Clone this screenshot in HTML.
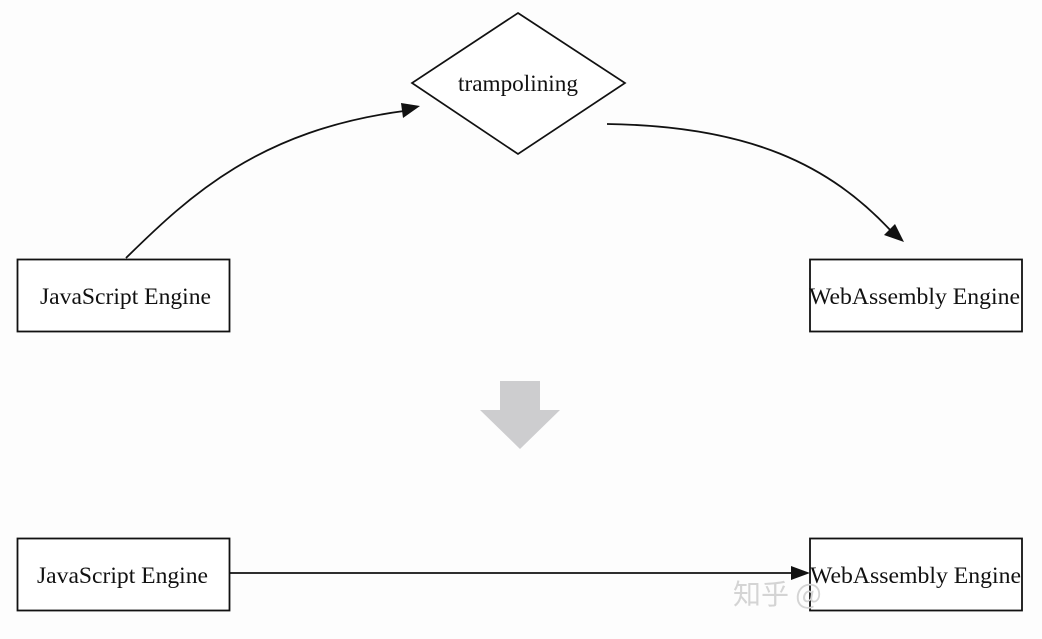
<!DOCTYPE html>
<html><head><meta charset="utf-8"><style>
html,body{margin:0;padding:0;background:#fdfdfd;}
svg{display:block;}
text{font-family:"Liberation Serif",serif;fill:#111;}
</style></head><body>
<svg width="1042" height="639" viewBox="0 0 1042 639" xmlns="http://www.w3.org/2000/svg">
<rect width="1042" height="639" fill="#fdfdfd"/>
<polygon points="518,13 625,83 518,154 412,83" fill="#fff" stroke="#111" stroke-width="1.7"/>
<text x="458" y="91" font-size="23" textLength="120" lengthAdjust="spacingAndGlyphs">trampolining</text>
<rect x="17.5" y="259.5" width="212" height="72" fill="#fff" stroke="#111" stroke-width="1.8"/>
<text x="40" y="304" font-size="23.5" textLength="171" lengthAdjust="spacingAndGlyphs">JavaScript Engine</text>
<rect x="810" y="259.5" width="212" height="72" fill="#fff" stroke="#111" stroke-width="1.8"/>
<text x="809" y="304" font-size="23.5" textLength="211" lengthAdjust="spacingAndGlyphs">WebAssembly Engine</text>
<path d="M126,258 C190,195 260,130 404,111" fill="none" stroke="#111" stroke-width="1.8"/>
<polygon points="420,106 403,118 401,103" fill="#111"/>
<path d="M607,124 C750,126 830,165 892,232" fill="none" stroke="#111" stroke-width="1.8"/>
<polygon points="904,242 884,235 895,224" fill="#111"/>
<polygon points="500,381 540,381 540,410 560,410 520,449 480,410 500,410" fill="#cdcdcf"/>
<rect x="17.5" y="538.5" width="212" height="72" fill="#fff" stroke="#111" stroke-width="1.8"/>
<text x="37" y="583" font-size="23.5" textLength="171" lengthAdjust="spacingAndGlyphs">JavaScript Engine</text>
<rect x="810" y="538.5" width="212" height="72" fill="#fff" stroke="#111" stroke-width="1.8"/>
<text x="810" y="583" font-size="23.5" textLength="211" lengthAdjust="spacingAndGlyphs">WebAssembly Engine</text>
<line x1="230" y1="573" x2="794" y2="573" stroke="#111" stroke-width="1.8"/>
<polygon points="810,573 791,566 791,580" fill="#111"/>
<text x="733" y="604" font-size="28" style="fill:#d4d4d4;font-family:'Noto Sans CJK SC',sans-serif">知乎 @</text>
</svg>
</body></html>
